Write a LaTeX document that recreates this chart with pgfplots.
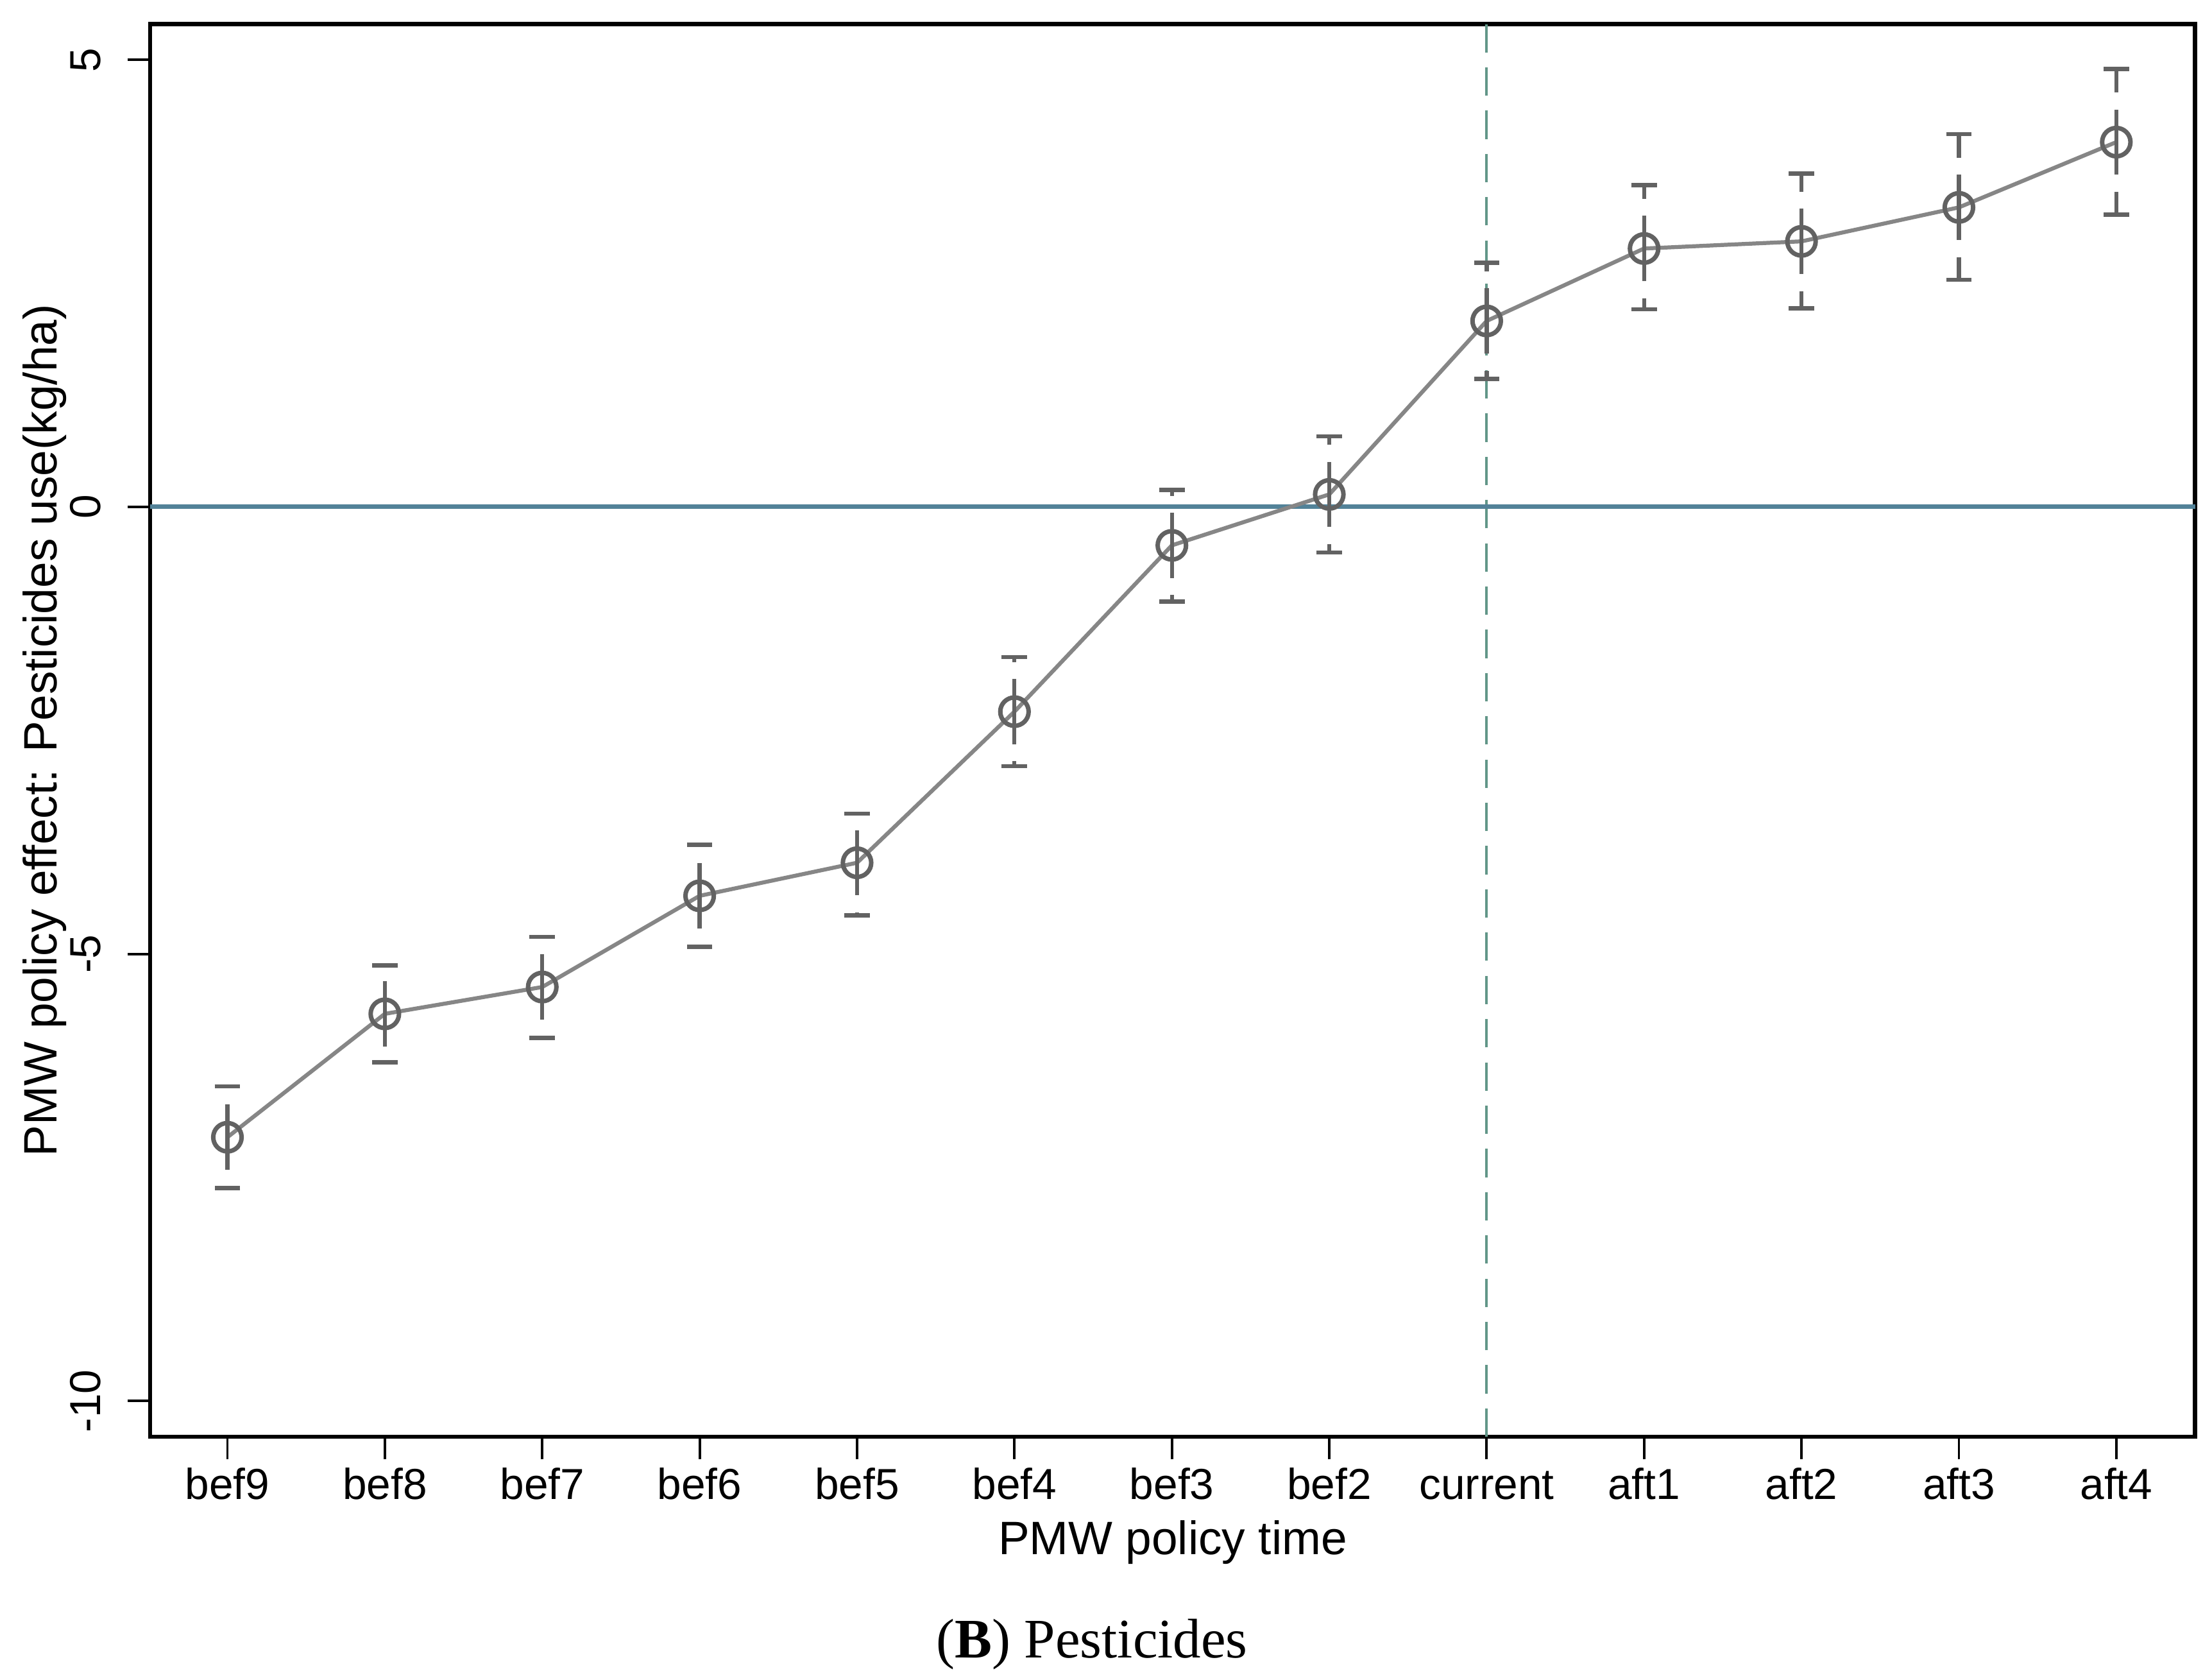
\documentclass[border=0pt]{standalone}
\usepackage{fontspec}
\setmainfont{Liberation Sans}
\newfontfamily\capfont{Liberation Serif}
\usepackage{pgfplots}
\usepackage{pgfplotstable}
\pgfplotsset{compat=1.18}

\definecolor{bargray}{RGB}{98,98,98}
\definecolor{linegray}{RGB}{134,134,134}
\definecolor{zeroblue}{RGB}{82,130,152}
\definecolor{vteal}{RGB}{98,150,136}

% event-study estimates with 95% CI
\pgfplotstableread{
x  y      ep    em
0  -7.05  0.57  0.57
1  -5.67  0.54  0.54
2  -5.37  0.56  0.57
3  -4.35  0.57  0.57
4  -3.98  0.55  0.59
5  -2.29  0.61  0.61
6  -0.43  0.62  0.63
7   0.14  0.65  0.65
8   2.08  0.65  0.65
9   2.89  0.71  0.68
10  2.97  0.76  0.75
11  3.35  0.82  0.81
12  4.08  0.82  0.81
}\pest

\begin{document}
\begin{tikzpicture}
\begin{axis}[
    scale only axis,
    width=144.2mm, height=99.6mm,
    xmin=-0.49, xmax=12.5,
    ymin=-10.4, ymax=5.4,
    xtick={0,...,12},
    xticklabels={bef9,bef8,bef7,bef6,bef5,bef4,bef3,bef2,current,aft1,aft2,aft3,aft4},
    ytick={-10,-5,0,5},
    yticklabels={-10,-5,0,5},
    xtick pos=bottom, ytick pos=left,
    tick align=outside,
    major tick length=1.6mm,
    axis line style={line width=0.8pt},
    tick style={black, line width=0.5pt},
    tick label style={font=\fontsize{8.7pt}{10pt}\selectfont},
    xticklabel style={anchor=base, inner sep=0pt, yshift=-2.8mm},
    yticklabel style={rotate=90, anchor=base, inner sep=0pt},
    yticklabel shift=1.9mm,
    label style={font=\fontsize{9.4pt}{11pt}\selectfont},
    xlabel={PMW policy time},
    ylabel={PMW policy effect: Pesticides use(kg/ha)},
    xlabel style={at={(axis description cs:0.5,0)}, anchor=base, inner sep=0pt, yshift=-8.3mm},
    ylabel style={at={(axis description cs:-0.04577,0.5)}, anchor=base, inner sep=0pt},
    clip=false,
]
\addplot[vteal, line width=0.5pt, dash pattern=on 2mm off 1.05mm, forget plot]
    coordinates {(8,-10.4) (8,5.4)};
\addplot[zeroblue, line width=0.9pt, forget plot] coordinates {(-0.49,0) (12.5,0)};

\addplot[linegray, line width=0.8pt, mark=o, mark size=1.0mm,
    mark options={draw=bargray, fill=none, line width=0.9pt, solid},
    error bars/.cd, y dir=both, y explicit,
    error bar style={line width=0.8pt, draw=bargray, dash pattern=on 2.3mm off 1.2mm},
    error mark=-,
    error mark options={solid, rotate=90, draw=bargray, line width=0.85pt, mark size=0.9mm}]
    table[x=x, y=y, y error plus=ep, y error minus=em] {\pest};

\node[anchor=base, font=\capfont\fontsize{11.2pt}{13pt}\selectfont, yshift=-15.6mm]
    at (rel axis cs:0.4605,0) {(\textbf{B}) Pesticides};
\end{axis}
\pgfresetboundingbox
\path[use as bounding box] ([xshift=-10.6mm,yshift=-17.0mm]current axis.south west)
    rectangle ([xshift=1.2mm,yshift=1.7mm]current axis.north east);
\end{tikzpicture}
\end{document}
